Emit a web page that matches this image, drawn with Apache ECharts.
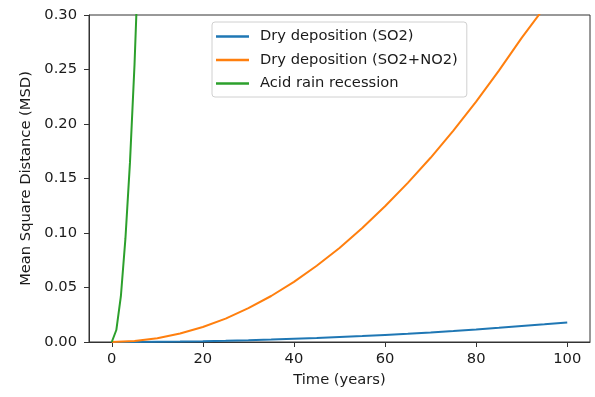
<!DOCTYPE html>
<html>
<head>
<meta charset="utf-8">
<script src="https://cdn.jsdelivr.net/npm/echarts@6/dist/echarts.min.js"></script>
<style>
html,body{margin:0;padding:0;background:#fff;}
#chart{width:595px;height:397px;}
</style>
</head>
<body>
<div id="chart"></div>
<script>
// Time in years for the deposition series
const years = [0,5,10,15,20,25,30,35,40,45,50,55,60,65,70,75,80,85,90,95,100];
const drySO2 = [0,0.00005,0.0002,0.0004,0.0007,0.0011,0.0016,0.0022,0.0029,0.0036,0.0045,0.0054,0.0065,0.0076,0.0088,0.0101,0.0115,0.013,0.0146,0.0162,0.018];
const drySO2NO2 = [0,0.0009,0.0035,0.0078,0.0138,0.0215,0.031,0.0422,0.0552,0.07,0.0862,0.1045,0.1245,0.146,0.169,0.194,0.2205,0.249,0.279,0.307,0.339];
// Acid rain recession (rises steeply, clipped by the axis top)
const acidYears = [0,1,2,3,4,5,6,7];
const acidRain = [0,0.011,0.042,0.095,0.165,0.255,0.37,0.50];

const xTicks = [0,20,40,60,80,100];
const seriesNames = ['Dry deposition (SO2)','Dry deposition (SO2+NO2)','Acid rain recession'];
const colors = ['#1f77b4','#ff7f0e','#2ca02c'];

const pair = (xs, ys) => xs.map((x,i)=>[x,ys[i]]);
const font = 'DejaVu Sans';
const fs = 14.7;
const txt = '#1a1a1a';

const chart = echarts.init(document.getElementById('chart'), null, {renderer:'canvas'});
chart.setOption({
  animation:false,
  backgroundColor:'#fff',
  color: colors,
  grid:{left:89,right:5,top:15,bottom:55,show:true,borderColor:'#333',borderWidth:1,backgroundColor:'transparent'},
  legend:{
    orient:'vertical', left:212, top:22,
    icon:'rect', itemWidth:33, itemHeight:2.5, itemGap:8.5,
    padding:[7,9,6,4],
    backgroundColor:'#fff', borderColor:'#d0d0d0', borderWidth:1, borderRadius:3,
    textStyle:{fontFamily:font,fontSize:fs,color:txt,lineHeight:14,padding:[0,0,0,6]},
    data: seriesNames
  },
  xAxis:{
    type:'value', min:-5, max:105,
    name:'Time (years)', nameLocation:'middle', nameGap:31,
    nameTextStyle:{fontFamily:font,fontSize:fs,color:txt},
    axisLine:{show:true,onZero:false,lineStyle:{color:'#333',width:1}},
    axisTick:{show:true,length:5,inside:false,customValues:xTicks,lineStyle:{color:'#333'}},
    axisLabel:{customValues:xTicks,margin:10,fontFamily:font,fontSize:fs,color:txt},
    splitLine:{show:false}
  },
  yAxis:{
    type:'value', min:0, max:0.3, interval:0.05,
    name:'Mean Square Distance (MSD)', nameLocation:'middle', nameGap:54,
    nameTextStyle:{fontFamily:font,fontSize:fs,color:txt},
    axisLine:{show:true,onZero:false,lineStyle:{color:'#333',width:1}},
    axisTick:{show:true,length:5,inside:false,lineStyle:{color:'#333'}},
    axisLabel:{margin:12,fontFamily:font,fontSize:fs,color:txt,formatter:v=>v.toFixed(2)},
    splitLine:{show:false}
  },
  series:[
    {name:seriesNames[0],type:'line',data:pair(years,drySO2),showSymbol:false,smooth:false,lineStyle:{width:2,color:colors[0]},itemStyle:{color:colors[0]},clip:true},
    {name:seriesNames[1],type:'line',data:pair(years,drySO2NO2),showSymbol:false,smooth:false,lineStyle:{width:2,color:colors[1]},itemStyle:{color:colors[1]},clip:true},
    {name:seriesNames[2],type:'line',data:pair(acidYears,acidRain),showSymbol:false,smooth:false,lineStyle:{width:2,color:colors[2]},itemStyle:{color:colors[2]},clip:true}
  ]
});
</script>
</body>
</html>
